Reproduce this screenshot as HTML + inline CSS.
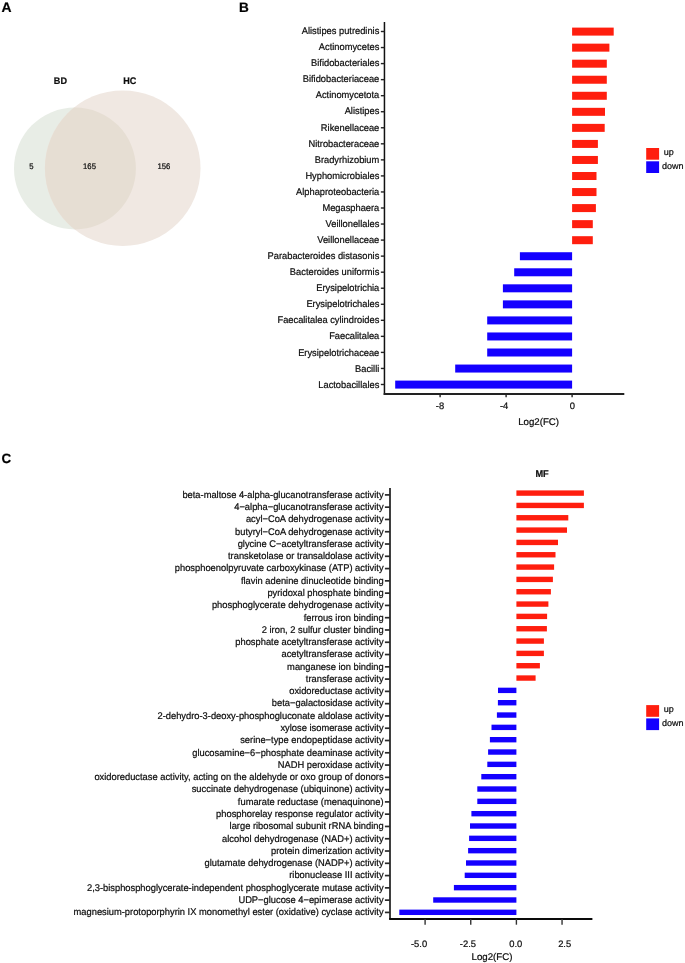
<!DOCTYPE html>
<html><head><meta charset="utf-8"><style>
html,body{margin:0;padding:0;background:#fff;width:685px;height:963px;overflow:hidden}
svg{display:block;will-change:transform}
text{font-family:"Liberation Sans",sans-serif;text-rendering:geometricPrecision;stroke:#0d0d0d;stroke-width:0.22px}
</style></head><body>
<svg width="685" height="963" viewBox="0 0 685 963">
<rect width="685" height="963" fill="#fff"/>
<g font-family="Liberation Sans" font-weight="bold" font-size="13.9" fill="#000" style="stroke:#000;stroke-width:0.15px">
<text x="1.45" y="11.8">A</text><text x="239.0" y="11.6" font-size="13.6">B</text><text x="1.55" y="462.5" font-size="13.4">C</text></g>
<defs><clipPath id="cbd"><circle cx="74.95" cy="168.45" r="60.95"/></clipPath></defs>
<circle cx="74.95" cy="168.45" r="60.95" fill="#e8ede6"/>
<circle cx="122.7" cy="168.2" r="77.8" fill="#f0e8e2"/>
<circle cx="122.7" cy="168.2" r="77.8" fill="#e6ded3" clip-path="url(#cbd)"/>
<g font-family="Liberation Sans" font-weight="bold" font-size="9.5" fill="#0d0d0d" text-anchor="middle">
<text transform="translate(60.4,83.5) scale(0.955,1)">BD</text><text transform="translate(129.7,83.5) scale(0.955,1)">HC</text></g>
<g font-family="Liberation Sans" font-size="8.1" fill="#0d0d0d" text-anchor="middle">
<text transform="translate(31.3,169) scale(0.95,1)">5</text><text transform="translate(89.5,169) scale(0.95,1)">165</text><text transform="translate(163.9,169) scale(0.95,1)">156</text></g>
<g fill="none">
<path d="M384.45 22.0V394.9" stroke="#111" stroke-width="1.5"/>
<path d="M383.7 393.95H624.3" stroke="#222" stroke-width="1.9"/>
<path d="M380.85 31.50H384.45" stroke="#222" stroke-width="1.4"/>
<path d="M380.85 47.55H384.45" stroke="#222" stroke-width="1.4"/>
<path d="M380.85 63.59H384.45" stroke="#222" stroke-width="1.4"/>
<path d="M380.85 79.64H384.45" stroke="#222" stroke-width="1.4"/>
<path d="M380.85 95.68H384.45" stroke="#222" stroke-width="1.4"/>
<path d="M380.85 111.73H384.45" stroke="#222" stroke-width="1.4"/>
<path d="M380.85 127.77H384.45" stroke="#222" stroke-width="1.4"/>
<path d="M380.85 143.81H384.45" stroke="#222" stroke-width="1.4"/>
<path d="M380.85 159.86H384.45" stroke="#222" stroke-width="1.4"/>
<path d="M380.85 175.91H384.45" stroke="#222" stroke-width="1.4"/>
<path d="M380.85 191.95H384.45" stroke="#222" stroke-width="1.4"/>
<path d="M380.85 208.00H384.45" stroke="#222" stroke-width="1.4"/>
<path d="M380.85 224.04H384.45" stroke="#222" stroke-width="1.4"/>
<path d="M380.85 240.09H384.45" stroke="#222" stroke-width="1.4"/>
<path d="M380.85 256.13H384.45" stroke="#222" stroke-width="1.4"/>
<path d="M380.85 272.18H384.45" stroke="#222" stroke-width="1.4"/>
<path d="M380.85 288.22H384.45" stroke="#222" stroke-width="1.4"/>
<path d="M380.85 304.27H384.45" stroke="#222" stroke-width="1.4"/>
<path d="M380.85 320.31H384.45" stroke="#222" stroke-width="1.4"/>
<path d="M380.85 336.36H384.45" stroke="#222" stroke-width="1.4"/>
<path d="M380.85 352.40H384.45" stroke="#222" stroke-width="1.4"/>
<path d="M380.85 368.45H384.45" stroke="#222" stroke-width="1.4"/>
<path d="M380.85 384.49H384.45" stroke="#222" stroke-width="1.4"/>
<path d="M440.10 393.95V397.25" stroke="#222" stroke-width="1.4"/>
<path d="M506.10 393.95V397.25" stroke="#222" stroke-width="1.4"/>
<path d="M572.10 393.95V397.25" stroke="#222" stroke-width="1.4"/>
</g>
<rect x="572.10" y="27.60" width="41.60" height="8.0" fill="#ff1e0e"/>
<rect x="572.10" y="43.65" width="37.30" height="8.0" fill="#ff1e0e"/>
<rect x="572.10" y="59.69" width="34.70" height="8.0" fill="#ff1e0e"/>
<rect x="572.10" y="75.74" width="34.70" height="8.0" fill="#ff1e0e"/>
<rect x="572.10" y="91.78" width="34.70" height="8.0" fill="#ff1e0e"/>
<rect x="572.10" y="107.83" width="32.90" height="8.0" fill="#ff1e0e"/>
<rect x="572.10" y="123.87" width="32.60" height="8.0" fill="#ff1e0e"/>
<rect x="572.10" y="139.92" width="25.80" height="8.0" fill="#ff1e0e"/>
<rect x="572.10" y="155.96" width="25.80" height="8.0" fill="#ff1e0e"/>
<rect x="572.10" y="172.01" width="24.40" height="8.0" fill="#ff1e0e"/>
<rect x="572.10" y="188.05" width="24.40" height="8.0" fill="#ff1e0e"/>
<rect x="572.10" y="204.09" width="23.80" height="8.0" fill="#ff1e0e"/>
<rect x="572.10" y="220.14" width="20.70" height="8.0" fill="#ff1e0e"/>
<rect x="572.10" y="236.19" width="20.70" height="8.0" fill="#ff1e0e"/>
<rect x="519.90" y="252.23" width="52.20" height="8.0" fill="#1400ff"/>
<rect x="514.20" y="268.28" width="57.90" height="8.0" fill="#1400ff"/>
<rect x="502.90" y="284.32" width="69.20" height="8.0" fill="#1400ff"/>
<rect x="502.90" y="300.37" width="69.20" height="8.0" fill="#1400ff"/>
<rect x="487.20" y="316.41" width="84.90" height="8.0" fill="#1400ff"/>
<rect x="487.20" y="332.46" width="84.90" height="8.0" fill="#1400ff"/>
<rect x="487.20" y="348.50" width="84.90" height="8.0" fill="#1400ff"/>
<rect x="455.20" y="364.55" width="116.90" height="8.0" fill="#1400ff"/>
<rect x="395.20" y="380.59" width="176.90" height="8.0" fill="#1400ff"/>
<g font-family="Liberation Sans" font-size="9.7" fill="#0d0d0d" text-anchor="end">
<text transform="translate(379.3,34.10) scale(0.96,1)">Alistipes putredinis</text>
<text transform="translate(379.3,50.17) scale(0.96,1)">Actinomycetes</text>
<text transform="translate(379.3,66.24) scale(0.96,1)">Bifidobacteriales</text>
<text transform="translate(379.3,82.31) scale(0.96,1)">Bifidobacteriaceae</text>
<text transform="translate(379.3,98.38) scale(0.96,1)">Actinomycetota</text>
<text transform="translate(379.3,114.45) scale(0.96,1)">Alistipes</text>
<text transform="translate(379.3,130.52) scale(0.96,1)">Rikenellaceae</text>
<text transform="translate(379.3,146.59) scale(0.96,1)">Nitrobacteraceae</text>
<text transform="translate(379.3,162.66) scale(0.96,1)">Bradyrhizobium</text>
<text transform="translate(379.3,178.73) scale(0.96,1)">Hyphomicrobiales</text>
<text transform="translate(379.3,194.80) scale(0.96,1)">Alphaproteobacteria</text>
<text transform="translate(379.3,210.87) scale(0.96,1)">Megasphaera</text>
<text transform="translate(379.3,226.94) scale(0.96,1)">Veillonellales</text>
<text transform="translate(379.3,243.01) scale(0.96,1)">Veillonellaceae</text>
<text transform="translate(379.3,259.08) scale(0.96,1)">Parabacteroides distasonis</text>
<text transform="translate(379.3,275.15) scale(0.96,1)">Bacteroides uniformis</text>
<text transform="translate(379.3,291.22) scale(0.96,1)">Erysipelotrichia</text>
<text transform="translate(379.3,307.29) scale(0.96,1)">Erysipelotrichales</text>
<text transform="translate(379.3,323.36) scale(0.96,1)">Faecalitalea cylindroides</text>
<text transform="translate(379.3,339.43) scale(0.96,1)">Faecalitalea</text>
<text transform="translate(379.3,355.50) scale(0.96,1)">Erysipelotrichaceae</text>
<text transform="translate(379.3,371.57) scale(0.96,1)">Bacilli</text>
<text transform="translate(379.3,387.64) scale(0.96,1)">Lactobacillales</text>
</g>
<g font-family="Liberation Sans" font-size="9.4" fill="#0d0d0d" text-anchor="middle">
<text x="439.95" y="409.2">-8</text>
<text x="504.10" y="409.2">-4</text>
<text x="572.40" y="409.2">0</text>
</g>
<text font-family="Liberation Sans" font-size="9.7" fill="#0d0d0d" text-anchor="middle" x="538.6" y="424.5">Log2(FC)</text>
<rect x="646.2" y="148.0" width="12.9" height="11.7" fill="#ff1e0e"/>
<rect x="646.2" y="161.3" width="12.9" height="11.7" fill="#1400ff"/>
<g font-family="Liberation Sans" font-size="9" fill="#0d0d0d"><text x="663.8" y="155.1">up</text><text x="661.95" y="168.6">down</text></g>
<text font-family="Liberation Sans" font-weight="bold" font-size="9.9" fill="#0d0d0d" text-anchor="middle" transform="translate(542.1,476.9) scale(0.93,1)">MF</text>
<g fill="none">
<path d="M390.0 488.0V919.0" stroke="#2a2a2a" stroke-width="1.8"/>
<path d="M389.1 919.0H592.4" stroke="#0a0a0a" stroke-width="2"/>
<path d="M384.90 494.90H390.0" stroke="#2a2a2a" stroke-width="1.7"/>
<path d="M384.90 507.18H390.0" stroke="#2a2a2a" stroke-width="1.7"/>
<path d="M384.90 519.46H390.0" stroke="#2a2a2a" stroke-width="1.7"/>
<path d="M384.90 531.74H390.0" stroke="#2a2a2a" stroke-width="1.7"/>
<path d="M384.90 544.02H390.0" stroke="#2a2a2a" stroke-width="1.7"/>
<path d="M384.90 556.30H390.0" stroke="#2a2a2a" stroke-width="1.7"/>
<path d="M384.90 568.58H390.0" stroke="#2a2a2a" stroke-width="1.7"/>
<path d="M384.90 580.86H390.0" stroke="#2a2a2a" stroke-width="1.7"/>
<path d="M384.90 593.14H390.0" stroke="#2a2a2a" stroke-width="1.7"/>
<path d="M384.90 605.42H390.0" stroke="#2a2a2a" stroke-width="1.7"/>
<path d="M384.90 617.70H390.0" stroke="#2a2a2a" stroke-width="1.7"/>
<path d="M384.90 629.98H390.0" stroke="#2a2a2a" stroke-width="1.7"/>
<path d="M384.90 642.26H390.0" stroke="#2a2a2a" stroke-width="1.7"/>
<path d="M384.90 654.54H390.0" stroke="#2a2a2a" stroke-width="1.7"/>
<path d="M384.90 666.82H390.0" stroke="#2a2a2a" stroke-width="1.7"/>
<path d="M384.90 679.10H390.0" stroke="#2a2a2a" stroke-width="1.7"/>
<path d="M384.90 691.38H390.0" stroke="#2a2a2a" stroke-width="1.7"/>
<path d="M384.90 703.66H390.0" stroke="#2a2a2a" stroke-width="1.7"/>
<path d="M384.90 715.94H390.0" stroke="#2a2a2a" stroke-width="1.7"/>
<path d="M384.90 728.22H390.0" stroke="#2a2a2a" stroke-width="1.7"/>
<path d="M384.90 740.50H390.0" stroke="#2a2a2a" stroke-width="1.7"/>
<path d="M384.90 752.78H390.0" stroke="#2a2a2a" stroke-width="1.7"/>
<path d="M384.90 765.06H390.0" stroke="#2a2a2a" stroke-width="1.7"/>
<path d="M384.90 777.34H390.0" stroke="#2a2a2a" stroke-width="1.7"/>
<path d="M384.90 789.62H390.0" stroke="#2a2a2a" stroke-width="1.7"/>
<path d="M384.90 801.90H390.0" stroke="#2a2a2a" stroke-width="1.7"/>
<path d="M384.90 814.18H390.0" stroke="#2a2a2a" stroke-width="1.7"/>
<path d="M384.90 826.46H390.0" stroke="#2a2a2a" stroke-width="1.7"/>
<path d="M384.90 838.74H390.0" stroke="#2a2a2a" stroke-width="1.7"/>
<path d="M384.90 851.02H390.0" stroke="#2a2a2a" stroke-width="1.7"/>
<path d="M384.90 863.30H390.0" stroke="#2a2a2a" stroke-width="1.7"/>
<path d="M384.90 875.58H390.0" stroke="#2a2a2a" stroke-width="1.7"/>
<path d="M384.90 887.86H390.0" stroke="#2a2a2a" stroke-width="1.7"/>
<path d="M384.90 900.14H390.0" stroke="#2a2a2a" stroke-width="1.7"/>
<path d="M384.90 912.42H390.0" stroke="#2a2a2a" stroke-width="1.7"/>
<path d="M425.10 919.0V924.70" stroke="#333" stroke-width="1.4"/>
<path d="M470.75 919.0V924.70" stroke="#333" stroke-width="1.4"/>
<path d="M516.40 919.0V924.70" stroke="#333" stroke-width="1.4"/>
<path d="M562.05 919.0V924.70" stroke="#333" stroke-width="1.4"/>
</g>
<rect x="516.40" y="490.40" width="67.50" height="5.4" fill="#ff1e0e"/>
<rect x="516.40" y="502.73" width="67.50" height="5.4" fill="#ff1e0e"/>
<rect x="516.40" y="515.06" width="51.90" height="5.4" fill="#ff1e0e"/>
<rect x="516.40" y="527.39" width="50.60" height="5.4" fill="#ff1e0e"/>
<rect x="516.40" y="539.72" width="41.60" height="5.4" fill="#ff1e0e"/>
<rect x="516.40" y="552.05" width="39.10" height="5.4" fill="#ff1e0e"/>
<rect x="516.40" y="564.38" width="37.70" height="5.4" fill="#ff1e0e"/>
<rect x="516.40" y="576.71" width="36.50" height="5.4" fill="#ff1e0e"/>
<rect x="516.40" y="589.04" width="34.50" height="5.4" fill="#ff1e0e"/>
<rect x="516.40" y="601.37" width="32.00" height="5.4" fill="#ff1e0e"/>
<rect x="516.40" y="613.70" width="30.70" height="5.4" fill="#ff1e0e"/>
<rect x="516.40" y="626.03" width="30.50" height="5.4" fill="#ff1e0e"/>
<rect x="516.40" y="638.36" width="27.50" height="5.4" fill="#ff1e0e"/>
<rect x="516.40" y="650.69" width="27.50" height="5.4" fill="#ff1e0e"/>
<rect x="516.40" y="663.02" width="23.50" height="5.4" fill="#ff1e0e"/>
<rect x="516.40" y="675.35" width="19.20" height="5.4" fill="#ff1e0e"/>
<rect x="498.00" y="687.68" width="18.40" height="5.4" fill="#1400ff"/>
<rect x="497.90" y="700.01" width="18.50" height="5.4" fill="#1400ff"/>
<rect x="496.90" y="712.34" width="19.50" height="5.4" fill="#1400ff"/>
<rect x="491.50" y="724.67" width="24.90" height="5.4" fill="#1400ff"/>
<rect x="489.90" y="737.00" width="26.50" height="5.4" fill="#1400ff"/>
<rect x="488.10" y="749.33" width="28.30" height="5.4" fill="#1400ff"/>
<rect x="487.30" y="761.66" width="29.10" height="5.4" fill="#1400ff"/>
<rect x="481.30" y="773.99" width="35.10" height="5.4" fill="#1400ff"/>
<rect x="477.30" y="786.32" width="39.10" height="5.4" fill="#1400ff"/>
<rect x="477.30" y="798.65" width="39.10" height="5.4" fill="#1400ff"/>
<rect x="471.40" y="810.98" width="45.00" height="5.4" fill="#1400ff"/>
<rect x="470.00" y="823.31" width="46.40" height="5.4" fill="#1400ff"/>
<rect x="469.10" y="835.64" width="47.30" height="5.4" fill="#1400ff"/>
<rect x="468.10" y="847.97" width="48.30" height="5.4" fill="#1400ff"/>
<rect x="466.00" y="860.30" width="50.40" height="5.4" fill="#1400ff"/>
<rect x="464.70" y="872.63" width="51.70" height="5.4" fill="#1400ff"/>
<rect x="453.90" y="884.96" width="62.50" height="5.4" fill="#1400ff"/>
<rect x="433.20" y="897.29" width="83.20" height="5.4" fill="#1400ff"/>
<rect x="399.30" y="909.62" width="117.10" height="5.4" fill="#1400ff"/>
<g font-family="Liberation Sans" font-size="9.7" fill="#0d0d0d" text-anchor="end">
<text transform="translate(383.6,497.70) scale(0.963,1)">beta-maltose 4-alpha-glucanotransferase activity</text>
<text transform="translate(383.6,509.98) scale(0.963,1)">4−alpha−glucanotransferase activity</text>
<text transform="translate(383.6,522.26) scale(0.963,1)">acyl−CoA dehydrogenase activity</text>
<text transform="translate(383.6,534.54) scale(0.963,1)">butyryl−CoA dehydrogenase activity</text>
<text transform="translate(383.6,546.82) scale(0.963,1)">glycine C−acetyltransferase activity</text>
<text transform="translate(383.6,559.10) scale(0.963,1)">transketolase or transaldolase activity</text>
<text transform="translate(383.6,571.38) scale(0.963,1)">phosphoenolpyruvate carboxykinase (ATP) activity</text>
<text transform="translate(383.6,583.66) scale(0.963,1)">flavin adenine dinucleotide binding</text>
<text transform="translate(383.6,595.94) scale(0.963,1)">pyridoxal phosphate binding</text>
<text transform="translate(383.6,608.22) scale(0.963,1)">phosphoglycerate dehydrogenase activity</text>
<text transform="translate(383.6,620.50) scale(0.963,1)">ferrous iron binding</text>
<text transform="translate(383.6,632.78) scale(0.963,1)">2 iron, 2 sulfur cluster binding</text>
<text transform="translate(383.6,645.06) scale(0.963,1)">phosphate acetyltransferase activity</text>
<text transform="translate(383.6,657.34) scale(0.963,1)">acetyltransferase activity</text>
<text transform="translate(383.6,669.62) scale(0.963,1)">manganese ion binding</text>
<text transform="translate(383.6,681.90) scale(0.963,1)">transferase activity</text>
<text transform="translate(383.6,694.18) scale(0.963,1)">oxidoreductase activity</text>
<text transform="translate(383.6,706.46) scale(0.963,1)">beta−galactosidase activity</text>
<text transform="translate(383.6,718.74) scale(0.963,1)">2-dehydro-3-deoxy-phosphogluconate aldolase activity</text>
<text transform="translate(383.6,731.02) scale(0.963,1)">xylose isomerase activity</text>
<text transform="translate(383.6,743.30) scale(0.963,1)">serine−type endopeptidase activity</text>
<text transform="translate(383.6,755.58) scale(0.963,1)">glucosamine−6−phosphate deaminase activity</text>
<text transform="translate(383.6,767.86) scale(0.963,1)">NADH peroxidase activity</text>
<text transform="translate(383.6,780.14) scale(0.963,1)">oxidoreductase activity, acting on the aldehyde or oxo group of donors</text>
<text transform="translate(383.6,792.42) scale(0.963,1)">succinate dehydrogenase (ubiquinone) activity</text>
<text transform="translate(383.6,804.70) scale(0.963,1)">fumarate reductase (menaquinone)</text>
<text transform="translate(383.6,816.98) scale(0.963,1)">phosphorelay response regulator activity</text>
<text transform="translate(383.6,829.26) scale(0.963,1)">large ribosomal subunit rRNA binding</text>
<text transform="translate(383.6,841.54) scale(0.963,1)">alcohol dehydrogenase (NAD+) activity</text>
<text transform="translate(383.6,853.82) scale(0.963,1)">protein dimerization activity</text>
<text transform="translate(383.6,866.10) scale(0.963,1)">glutamate dehydrogenase (NADP+) activity</text>
<text transform="translate(383.6,878.38) scale(0.963,1)">ribonuclease III activity</text>
<text transform="translate(383.6,890.66) scale(0.963,1)">2,3-bisphosphoglycerate-independent phosphoglycerate mutase activity</text>
<text transform="translate(383.6,902.94) scale(0.963,1)">UDP−glucose 4−epimerase activity</text>
<text transform="translate(383.6,915.22) scale(0.963,1)">magnesium-protoporphyrin IX monomethyl ester (oxidative) cyclase activity</text>
</g>
<g font-family="Liberation Sans" font-size="9.4" fill="#0d0d0d" text-anchor="middle">
<text x="419.05" y="946.5">-5.0</text>
<text x="467.90" y="946.5">-2.5</text>
<text x="515.80" y="946.5">0.0</text>
<text x="564.65" y="946.5">2.5</text>
</g>
<text font-family="Liberation Sans" font-size="9.7" fill="#0d0d0d" text-anchor="middle" x="492.0" y="959.7">Log2(FC)</text>
<rect x="646.2" y="705.1" width="12.9" height="11.7" fill="#ff1e0e"/>
<rect x="646.2" y="718.4" width="12.9" height="11.7" fill="#1400ff"/>
<g font-family="Liberation Sans" font-size="9" fill="#0d0d0d"><text x="663.8" y="712.3">up</text><text x="661.95" y="725.8">down</text></g>
</svg>
</body></html>
